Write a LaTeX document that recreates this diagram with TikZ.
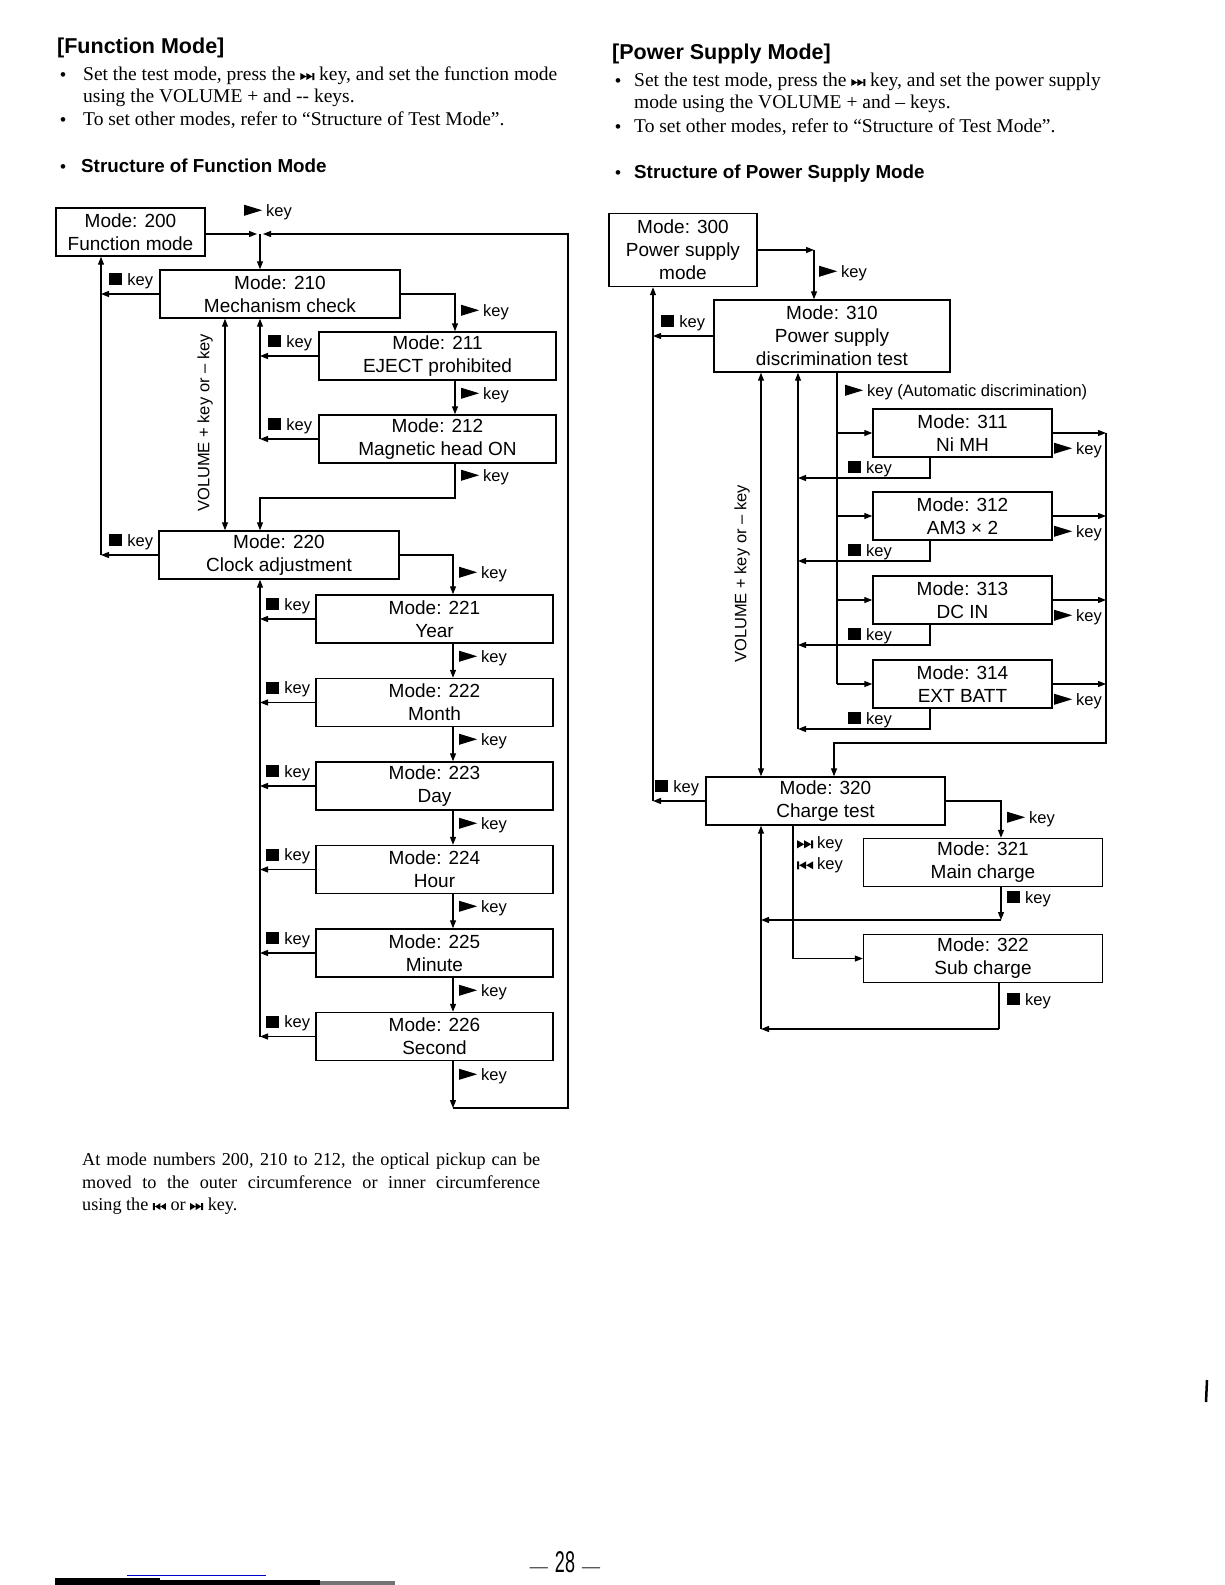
\documentclass[tikz,border=0pt]{standalone}
\usepackage{fontspec}
\setmainfont{Liberation Serif}
\newfontfamily\dsf{Liberation Sans}
\usetikzlibrary{arrows.meta}
\newcommand\boxfont{\dsf\fontsize{19}{23}\selectfont}
\newcommand\lblfont{\dsf\fontsize{16.5}{20}\selectfont}
\newcommand\hdfont{\dsf\bfseries\fontsize{21.5}{24}\selectfont}
\newcommand\shfont{\dsf\bfseries\fontsize{18.8}{22}\selectfont}
\newcommand\txfont{\fontsize{19.5}{22}\selectfont}
\newcommand\ntfont{\fontsize{18.2}{22}\selectfont}
\newcommand\bulfont{\dsf\fontsize{17}{22}\selectfont}
\newcommand\playsym{\tikz[x=1pt,y=1pt,baseline=0pt]\fill[black] (0,0.5)--(0,11.5)--(18,6)--cycle;}
\newcommand\stopsym{\tikz[x=1pt,y=1pt,baseline=0pt]\fill[black] (0,0) rectangle (13,12);}
\newcommand\nextsym[2]{\tikz[x=1pt,y=1pt,baseline=0pt]{\fill[black] (0,0)--(0,#2)--(#1,#2/2)--cycle (#1,0)--(#1,#2)--(2*#1,#2/2)--cycle (2*#1,0) rectangle (2*#1+2,#2);}}
\newcommand\prevsym[2]{\tikz[x=1pt,y=1pt,baseline=0pt]{\fill[black] (0,0) rectangle (2,#2) (2+2*#1,0)--(2+2*#1,#2)--(2+#1,#2/2)--cycle (2+#1,0)--(2+#1,#2)--(2,#2/2)--cycle;}}
\newcommand\pkey{\playsym\hspace{4pt}key}
\newcommand\skey{\stopsym\hspace{5pt}key}
\begin{document}
\begin{tikzpicture}[x=1pt,y=-1pt,
  >={Triangle[length=8pt,width=6pt]},
  mbox/.style={draw,line width=1.4pt,fill=white,align=center,inner sep=0pt,font=\boxfont},
  lbl/.style={font=\lblfont,inner sep=0pt},
  txt/.style={anchor=base west,inner sep=0pt,font=\txfont},
  ln/.style={line width=1.2pt},
  arr/.style={ln,->},
  barr/.style={ln,<->}]
\fill[white] (0,0) rectangle (1225,1585);
\useasboundingbox (0,0) rectangle (1225,1585);

% ---------------- headers left
\node[txt,font=\hdfont] (h1) at (57,53) {[Function Mode]};
\node[txt,font=\bulfont] (bu1) at (60,80) {•};
\node[txt] (t1) at (83,80) {Set the test mode, press the \nextsym{6}{7}\ key, and set the function mode};
\node[txt] (t2) at (83,102) {using the VOLUME + and -{}- keys.};
\node[txt,font=\bulfont] (bu2) at (60,125) {•};
\node[txt] (t3) at (83,125) {To set other modes, refer to “Structure of Test Mode”.};
\node[txt,font=\bulfont] (bu3) at (60,172) {•};
\node[txt,font=\shfont] (t4) at (81,172) {Structure of Function Mode};

% ---------------- headers right
\node[txt,font=\hdfont] (h2) at (612,59) {[Power Supply Mode]};
\node[txt,font=\bulfont] (bu4) at (615,86) {•};
\node[txt] (t5) at (634,86) {Set the test mode, press the \nextsym{6}{7}\ key, and set the power supply};
\node[txt] (t6) at (634,108) {mode using the VOLUME + and – keys.};
\node[txt,font=\bulfont] (bu5) at (615,132) {•};
\node[txt] (t7) at (634,132) {To set other modes, refer to “Structure of Test Mode”.};
\node[txt,font=\bulfont] (bu6) at (615,178) {•};
\node[txt,font=\shfont] (t8) at (634,178) {Structure of Power Supply Mode};

% ---------------- left diagram boxes
\node[mbox,minimum width=149,minimum height=48] (b200) at (130.5,232) {Mode: 200\\Function mode};
\node[mbox,minimum width=240,minimum height=48] (b210) at (280,294) {Mode: 210\\Mechanism check};
\node[mbox,minimum width=237,minimum height=48] (b211) at (437.5,356) {Mode: 211\\EJECT prohibited};
\node[mbox,minimum width=237,minimum height=48] (b212) at (437.5,439) {Mode: 212\\Magnetic head ON};
\node[mbox,minimum width=240,minimum height=48] (b220) at (279,555) {Mode: 220\\Clock adjustment};
\node[mbox,minimum width=237,minimum height=48] (b221) at (434.5,619) {Mode: 221\\Year};
\node[mbox,minimum width=237,minimum height=48] (b222) at (434.5,702.5) {Mode: 222\\Month};
\node[mbox,minimum width=237,minimum height=48] (b223) at (434.5,786) {Mode: 223\\Day};
\node[mbox,minimum width=237,minimum height=48] (b224) at (434.5,869.5) {Mode: 224\\Hour};
\node[mbox,minimum width=237,minimum height=48] (b225) at (434.5,953) {Mode: 225\\Minute};
\node[mbox,minimum width=237,minimum height=48] (b226) at (434.5,1036.5) {Mode: 226\\Second};

% coordinates left
\coordinate (jt) at (260,234);
\coordinate (xl) at (101,0);
\coordinate (xv) at (225,0);
\coordinate (xb) at (260,0);
\coordinate (xf1) at (455,0);
\coordinate (xf2) at (453,0);
\coordinate (d1) at (455,498);
\coordinate (lp1) at (453,1108);
\coordinate (lp2) at (568,1108);
\coordinate (lp3) at (568,234);

% connectors left
\draw[arr] (b200.east |- jt) -- ([xshift=-3pt]jt);
\draw[arr] (jt) -- (jt |- b210.north);
\draw[arr] (b226.south -| lp1) -- (lp1);
\draw[arr] (lp1) -- (lp2) -- (lp3) -- ([xshift=3pt]jt);
\draw[arr] (b210.west) -- (b210.west -| xl);
\draw[arr] (b220.west) -- (b220.west -| xl);
\draw[arr] (b220.west -| xl) -- (xl |- b200.south);
\draw[barr] (b210.south -| xv) -- (b220.north -| xv);
\draw[arr] (b211.west) -- (b211.west -| xb);
\draw[arr] (b212.west) -- (b212.west -| xb);
\draw[arr] (b212.west -| xb) -- (xb |- b210.south);
\draw[arr] (b210.east) -- (b210.east -| xf1) -- (xf1 |- b211.north);
\draw[arr] (b211.south -| xf1) -- (b212.north -| xf1);
\draw[arr] (b212.south -| xf1) -- (d1) -- (d1 -| xb) -- (xb |- b220.north);
\draw[arr] (b220.east) -- (b220.east -| xf2) -- (xf2 |- b221.north);
\draw[arr] (b221.south -| xf2) -- (b222.north -| xf2);
\draw[arr] (b222.south -| xf2) -- (b223.north -| xf2);
\draw[arr] (b223.south -| xf2) -- (b224.north -| xf2);
\draw[arr] (b224.south -| xf2) -- (b225.north -| xf2);
\draw[arr] (b225.south -| xf2) -- (b226.north -| xf2);
\foreach \b in {b221,b222,b223,b224,b225,b226}
  {\draw[arr] (\b.west) -- (\b.west -| xb);}
\draw[arr] (b226.west -| xb) -- (xb |- b220.south);

% labels left
\node[lbl,anchor=west] (k0) at (244,212) {\pkey};
\node[lbl,anchor=base east] (k210) at ([xshift=-6pt,yshift=9pt]b210.west) {\skey};
\node[lbl,anchor=base east] (k220) at ([xshift=-5pt,yshift=9pt]b220.west) {\skey};
\node[lbl,anchor=base east] (k211) at ([xshift=-6pt,yshift=9pt]b211.west) {\skey};
\node[lbl,anchor=base east] (k212) at ([xshift=-6pt,yshift=9pt]b212.west) {\skey};
\node[lbl,anchor=base east] (k221) at ([xshift=-5pt,yshift=9pt]b221.west) {\skey};
\node[lbl,anchor=base east] (k222) at ([xshift=-5pt,yshift=9pt]b222.west) {\skey};
\node[lbl,anchor=base east] (k223) at ([xshift=-5pt,yshift=9pt]b223.west) {\skey};
\node[lbl,anchor=base east] (k224) at ([xshift=-5pt,yshift=9pt]b224.west) {\skey};
\node[lbl,anchor=base east] (k225) at ([xshift=-5pt,yshift=9pt]b225.west) {\skey};
\node[lbl,anchor=base east] (k226) at ([xshift=-5pt,yshift=9pt]b226.west) {\skey};
\node[lbl,anchor=west] (f1) at (461,312) {\pkey};
\node[lbl,anchor=west] (f2) at (461,395) {\pkey};
\node[lbl,anchor=west] (f3) at (461,477) {\pkey};
\node[lbl,anchor=west] (f4) at (459,574) {\pkey};
\node[lbl,anchor=west] (f5) at (459,658) {\pkey};
\node[lbl,anchor=west] (f6) at (459,741) {\pkey};
\node[lbl,anchor=west] (f7) at (459,825) {\pkey};
\node[lbl,anchor=west] (f8) at (459,908) {\pkey};
\node[lbl,anchor=west] (f9) at (459,992) {\pkey};
\node[lbl,anchor=west] (f10) at (459,1076) {\pkey};
\node[lbl,rotate=90] (vol1) at (205,423) {VOLUME + key or – key};

% ---------------- right diagram boxes
\node[mbox,minimum width=148,minimum height=73] (p300) at (683,250) {Mode: 300\\Power supply\\mode};
\node[mbox,minimum width=236,minimum height=72] (p310) at (832,336) {Mode: 310\\Power supply\\discrimination test};
\node[mbox,minimum width=179,minimum height=48] (p311) at (962.5,433) {Mode: 311\\Ni MH};
\node[mbox,minimum width=179,minimum height=48] (p312) at (962.5,516) {Mode: 312\\AM3 × 2};
\node[mbox,minimum width=179,minimum height=48] (p313) at (962.5,600) {Mode: 313\\DC IN};
\node[mbox,minimum width=179,minimum height=48] (p314) at (962.5,684) {Mode: 314\\EXT BATT};
\node[mbox,minimum width=239,minimum height=48] (p320) at (825.5,801) {Mode: 320\\Charge test};
\node[mbox,minimum width=239,minimum height=48] (p321) at (983,862.5) {Mode: 321\\Main charge};
\node[mbox,minimum width=239,minimum height=48] (p322) at (983,958.5) {Mode: 322\\Sub charge};

% coordinates right
\coordinate (x300) at (814,0);
\coordinate (xo) at (653,0);
\coordinate (xv2) at (761,0);
\coordinate (xr) at (798,0);
\coordinate (xbr) at (837,0);
\coordinate (xrr) at (1106,0);
\coordinate (rb) at (1106,743);
\coordinate (rc) at (834,743);
\coordinate (x321) at (1001,0);
\coordinate (x322) at (793,0);
\coordinate (r311) at (930,478);
\coordinate (r312) at (930,561);
\coordinate (r313) at (930,645);
\coordinate (r314) at (930,729);
\coordinate (c321) at (1001,920);
\coordinate (c322) at (999,1029);

% connectors right
\draw[arr] (p300.east) -- (p300.east -| x300);
\draw[arr] (p300.east -| x300) -- (x300 |- p310.north);
\draw[arr] (p310.west) -- (p310.west -| xo);
\draw[arr] (p320.west) -- (p320.west -| xo);
\draw[arr] (p320.west -| xo) -- (xo |- p300.south);
\draw[barr] (p310.south -| xv2) -- (p320.north -| xv2);
\foreach \b/\r in {p311/r311,p312/r312,p313/r313,p314/r314}
  {\draw[arr] (\b.south -| \r) -- (\r) -- (\r -| xr);
   \draw[arr] (xbr |- \b.west) -- (\b.west);
   \draw[arr] (\b.east) -- (\b.east -| xrr);}
\draw[arr] (r314 -| xr) -- (xr |- p310.south);
\draw[ln] (xbr |- p310.south) -- (xbr |- p314.west);
\draw[arr] (xrr |- p311.east) -- (rb) -- (rc) -- (rc |- p320.north);
\draw[arr] (p320.east) -- (p320.east -| x321) -- (x321 |- p321.north);
\draw[arr] (x322 |- p320.south) -- (x322 |- p322.west) -- (p322.west);
\draw[arr] (p321.south -| c321) -- (c321);
\draw[arr] (c321) -- (c321 -| xv2);
\draw[ln] (p322.south -| c322) -- (c322);
\draw[arr] (c322) -- (c322 -| xv2);
\draw[arr] (xv2 |- c322) -- (xv2 |- p320.south);

% labels right
\node[lbl,anchor=west] (g1) at (819,273) {\pkey};
\node[lbl,anchor=base east] (g2) at ([xshift=-8pt,yshift=9pt]p310.west) {\skey};
\node[lbl,anchor=base east] (g3) at ([xshift=-6pt,yshift=9pt]p320.west) {\skey};
\node[lbl,anchor=west] (g4) at (845,392) {\pkey\ (Automatic discrimination)};
\node[lbl,anchor=base west] (g5) at (848,473) {\skey};
\node[lbl,anchor=base west] (g6) at (848,556) {\skey};
\node[lbl,anchor=base west] (g7) at (848,640) {\skey};
\node[lbl,anchor=base west] (g8) at (848,724) {\skey};
\node[lbl,anchor=west] (g9) at (1054,450) {\pkey};
\node[lbl,anchor=west] (g10) at (1054,533) {\pkey};
\node[lbl,anchor=west] (g11) at (1054,617) {\pkey};
\node[lbl,anchor=west] (g12) at (1054,701) {\pkey};
\node[lbl,anchor=west] (g13) at (1007,819) {\pkey};
\node[lbl,anchor=west] (g14) at (797,844) {\nextsym{7}{8}\hspace{4pt}key};
\node[lbl,anchor=west] (g15) at (797,865) {\prevsym{7}{8}\hspace{4pt}key};
\node[lbl,anchor=west] (g16) at (1007,899) {\skey};
\node[lbl,anchor=west] (g17) at (1007,1001) {\skey};
\node[lbl,rotate=90] (vol2) at (742,574) {VOLUME + key or – key};

% ---------------- note
\node[txt,font=\ntfont] (n1) at (82,1165) {\makebox[458pt][s]{At mode numbers 200, 210 to 212, the optical pickup can be}};
\node[txt,font=\ntfont] (n2) at (82,1188) {\makebox[458pt][s]{moved to the outer circumference or inner circumference}};
\node[txt,font=\ntfont] (n3) at (82,1210) {using the \prevsym{5.5}{7} or \nextsym{5.5}{7} key.};

% ---------------- footer
\node[inner sep=0pt] (pg) at (565,1562) {\fontsize{18}{18}\selectfont —\hspace{7pt}\scalebox{0.6}[1]{\dsf\fontsize{30}{30}\selectfont 28}\hspace{7pt}—};
\fill[black] (55,1578) rectangle (160,1585);
\fill[black] (160,1580) rectangle (320,1585);
\fill[black!55] (320,1581) rectangle (395,1585);
\draw[blue!80!black,line width=1pt] (127,1575) -- (266,1575);
\draw[line width=2.5pt] (1207,1380) -- (1206,1402);
\end{tikzpicture}
\end{document}
